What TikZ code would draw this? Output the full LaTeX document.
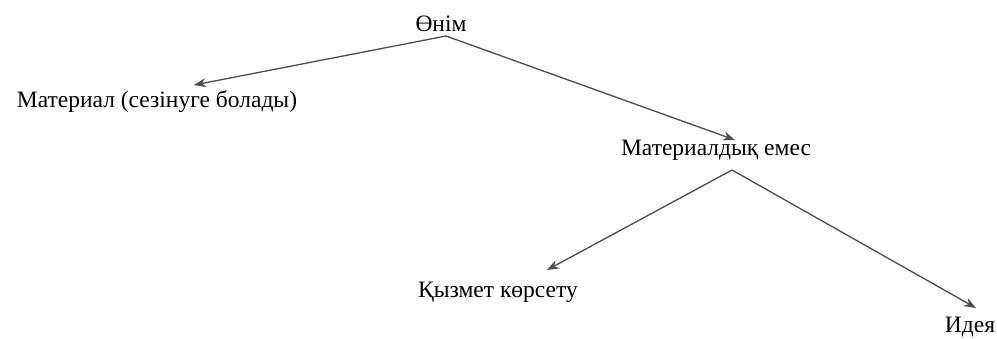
\documentclass[tikz,border=0pt]{standalone}
\usepackage{fontspec}
\setmainfont{Liberation Serif}
\usetikzlibrary{arrows.meta}
\begin{document}
\begin{tikzpicture}[x=1pt,y=-1pt,
  lbl/.style={inner sep=0pt, anchor=base, font=\fontsize{23.5}{26}\selectfont},
  link/.style={draw=black!70, line width=1.3pt, -{Stealth[length=12pt,width=9pt]}}]
\useasboundingbox (0,0) rectangle (997,338);
\node[lbl] (root) at (441,31) {Өнім};
\node[lbl] (mat) at (157,107) {Материал (сезінуге болады)};
\node[lbl] (imm) at (716,155) {Материалдық емес};
\node[lbl] (srv) at (498,297) {Қызмет көрсету};
\node[lbl] (idea) at (970,332) {Идея};
\coordinate (top) at (446,36);
\coordinate (mid) at (732,170);
\draw[link] (top) -- (194,85);
\draw[link] (top) -- (735,140);
\draw[link] (mid) -- (547,270);
\draw[link] (mid) -- (976,308);
\end{tikzpicture}
\end{document}
